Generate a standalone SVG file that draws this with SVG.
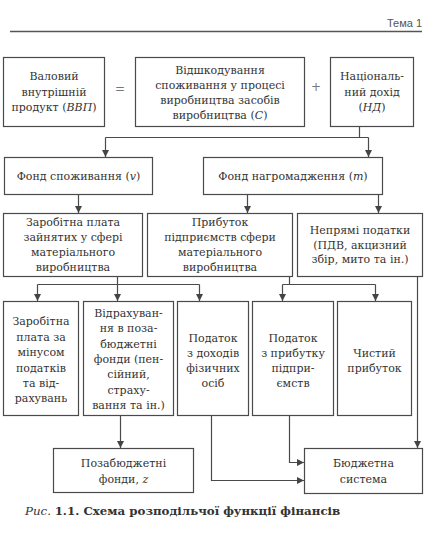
<svg xmlns="http://www.w3.org/2000/svg" width="427" height="535" viewBox="0 0 427 535">
<style>
.bg{fill:#ffffff}
.box{fill:#ffffff;stroke:#4a4a4a;stroke-width:1.2}
.t{font-family:"DejaVu Serif","Liberation Serif",serif;font-size:11px;fill:#333333;text-anchor:middle}
.i{font-style:italic}
.ln{fill:none;stroke:#4a4a4a;stroke-width:1.2}
.hdr{font-family:"Liberation Sans","Noto Sans",sans-serif;font-size:11px;fill:#555555;text-anchor:end}
.op{font-family:"DejaVu Serif",serif;font-size:12px;fill:#777777;text-anchor:middle}
.cap{font-family:"DejaVu Serif","Liberation Serif",serif;font-size:11.8px;fill:#333333}
</style>
<defs>
<marker id="ah" markerWidth="7" markerHeight="7" refX="7" refY="3.5" orient="auto" markerUnits="userSpaceOnUse">
<path d="M0,0 L7,3.5 L0,7 z" fill="#444444"/>
</marker>
</defs>
<rect class="bg" x="0" y="0" width="427" height="535"/>
<text class="hdr" x="422" y="27">Тема 1</text>
<line x1="10" y1="31.5" x2="422" y2="31.5" stroke="#555555" stroke-width="1.4"/>

<g id="vvp"><rect class="box" x="3.5" y="57.5" width="101" height="69"/>
<text class="t" x="54" y="80">Валовий</text>
<text class="t" x="54" y="95.5">внутрішній</text>
<text class="t" x="54" y="111">продукт (<tspan class="i">ВВП</tspan>)</text></g>
<text class="op" x="120" y="93">=</text>
<g id="c"><rect class="box" x="135.5" y="57.5" width="169" height="69"/>
<text class="t" x="220" y="74">Відшкодування</text>
<text class="t" x="220" y="89">споживання у процесі</text>
<text class="t" x="220" y="104">виробництва засобів</text>
<text class="t" x="220" y="119">виробництва (<tspan class="i">С</tspan>)</text></g>
<text class="op" x="316" y="91">+</text>
<g id="nd"><rect class="box" x="330.5" y="57.5" width="83" height="69"/>
<text class="t" x="372" y="80">Національ-</text>
<text class="t" x="372" y="95.5">ний дохід</text>
<text class="t" x="372" y="111">(<tspan class="i">НД</tspan>)</text></g>

<g id="fs"><rect class="box" x="4.5" y="157.5" width="148" height="37"/>
<text class="t" x="78.5" y="180">Фонд споживання (<tspan class="i">v</tspan>)</text></g>
<g id="fn"><rect class="box" x="203.5" y="157.5" width="179" height="37"/>
<text class="t" x="293" y="180">Фонд нагромадження (<tspan class="i">m</tspan>)</text></g>

<g id="zp"><rect class="box" x="3.5" y="213.5" width="139" height="63"/>
<text class="t" x="73" y="226">Заробітна плата</text>
<text class="t" x="73" y="241">зайнятих у сфері</text>
<text class="t" x="73" y="256">матеріального</text>
<text class="t" x="73" y="270.5">виробництва</text></g>
<g id="pp"><rect class="box" x="147.5" y="213.5" width="145" height="63"/>
<text class="t" x="220" y="226">Прибуток</text>
<text class="t" x="220" y="241">підприємств сфери</text>
<text class="t" x="220" y="256">матеріального</text>
<text class="t" x="220" y="270.5">виробництва</text></g>
<g id="np"><rect class="box" x="297.5" y="213.5" width="125" height="63"/>
<text class="t" x="360" y="234">Непрямі податки</text>
<text class="t" x="360" y="248.5">(ПДВ, акцизний</text>
<text class="t" x="360" y="263">збір, мито та ін.)</text></g>

<g id="d1"><rect class="box" x="3.5" y="301.5" width="75" height="114"/>
<text class="t" x="41" y="325">Заробітна</text>
<text class="t" x="41" y="340.5">плата за</text>
<text class="t" x="41" y="356">мінусом</text>
<text class="t" x="41" y="371.5">податків</text>
<text class="t" x="41" y="386.5">та від-</text>
<text class="t" x="41" y="402">рахувань</text></g>
<g id="d2"><rect class="box" x="83.5" y="301.5" width="90" height="114"/>
<text class="t" x="128.5" y="317">Відрахуван-</text>
<text class="t" x="128.5" y="332.3">ня в поза-</text>
<text class="t" x="128.5" y="347.6">бюджетні</text>
<text class="t" x="128.5" y="363">фонди (пен-</text>
<text class="t" x="128.5" y="378.3">сійний,</text>
<text class="t" x="128.5" y="393.6">страху-</text>
<text class="t" x="128.5" y="409">вання та ін.)</text></g>
<g id="d3"><rect class="box" x="177.5" y="301.5" width="71" height="114"/>
<text class="t" x="213" y="342">Податок</text>
<text class="t" x="213" y="357">з доходів</text>
<text class="t" x="213" y="372">фізичних</text>
<text class="t" x="213" y="387">осіб</text></g>
<g id="d4"><rect class="box" x="252.5" y="301.5" width="81" height="114"/>
<text class="t" x="293" y="342">Податок</text>
<text class="t" x="293" y="357">з прибутку</text>
<text class="t" x="293" y="372">підпри-</text>
<text class="t" x="293" y="387">ємств</text></g>
<g id="d5"><rect class="box" x="337.5" y="301.5" width="74" height="114"/>
<text class="t" x="374.5" y="357">Чистий</text>
<text class="t" x="374.5" y="372">прибуток</text></g>

<g id="pf"><rect class="box" x="53.5" y="448.5" width="140" height="44"/>
<text class="t" x="123.5" y="467">Позабюджетні</text>
<text class="t" x="123.5" y="483">фонди, <tspan class="i">z</tspan></text></g>
<g id="bs"><rect class="box" x="304.5" y="448.5" width="118" height="45"/>
<text class="t" x="363.5" y="467">Бюджетна</text>
<text class="t" x="363.5" y="483">система</text></g>

<g id="connectors">
<polyline class="ln" points="359.5,127 359.5,137.5"/>
<line class="ln" x1="105.5" y1="137.5" x2="368.5" y2="137.5"/>
<line class="ln" x1="105.5" y1="137.5" x2="105.5" y2="157" marker-end="url(#ah)"/>
<line class="ln" x1="368.5" y1="137.5" x2="368.5" y2="157" marker-end="url(#ah)"/>
<line class="ln" x1="78.5" y1="195" x2="78.5" y2="213" marker-end="url(#ah)"/>
<line class="ln" x1="247.5" y1="195" x2="247.5" y2="213" marker-end="url(#ah)"/>
<line class="ln" x1="378.5" y1="195" x2="378.5" y2="213" marker-end="url(#ah)"/>
<line class="ln" x1="117.5" y1="277" x2="117.5" y2="284.5"/>
<line class="ln" x1="37.5" y1="284.5" x2="199.5" y2="284.5"/>
<line class="ln" x1="37.5" y1="284.5" x2="37.5" y2="301" marker-end="url(#ah)"/>
<line class="ln" x1="117.5" y1="284.5" x2="117.5" y2="301" marker-end="url(#ah)"/>
<line class="ln" x1="199.5" y1="284.5" x2="199.5" y2="301" marker-end="url(#ah)"/>
<line class="ln" x1="289.5" y1="277" x2="289.5" y2="284.5"/>
<line class="ln" x1="282.5" y1="284.5" x2="375.5" y2="284.5"/>
<line class="ln" x1="282.5" y1="284.5" x2="282.5" y2="301" marker-end="url(#ah)"/>
<line class="ln" x1="375.5" y1="284.5" x2="375.5" y2="301" marker-end="url(#ah)"/>
<line class="ln" x1="417.5" y1="277" x2="417.5" y2="448" marker-end="url(#ah)"/>
<line class="ln" x1="120.5" y1="416" x2="120.5" y2="448" marker-end="url(#ah)"/>
<polyline class="ln" points="211.5,416 211.5,480.5 304,480.5" marker-end="url(#ah)"/>
<polyline class="ln" points="289.5,416 289.5,462.5 304,462.5" marker-end="url(#ah)"/>
</g>

<text class="cap" x="25" y="515"><tspan font-style="italic">Рис</tspan>. <tspan font-weight="bold">1.1. Схема розподільчої функції фінансів</tspan></text>
</svg>
